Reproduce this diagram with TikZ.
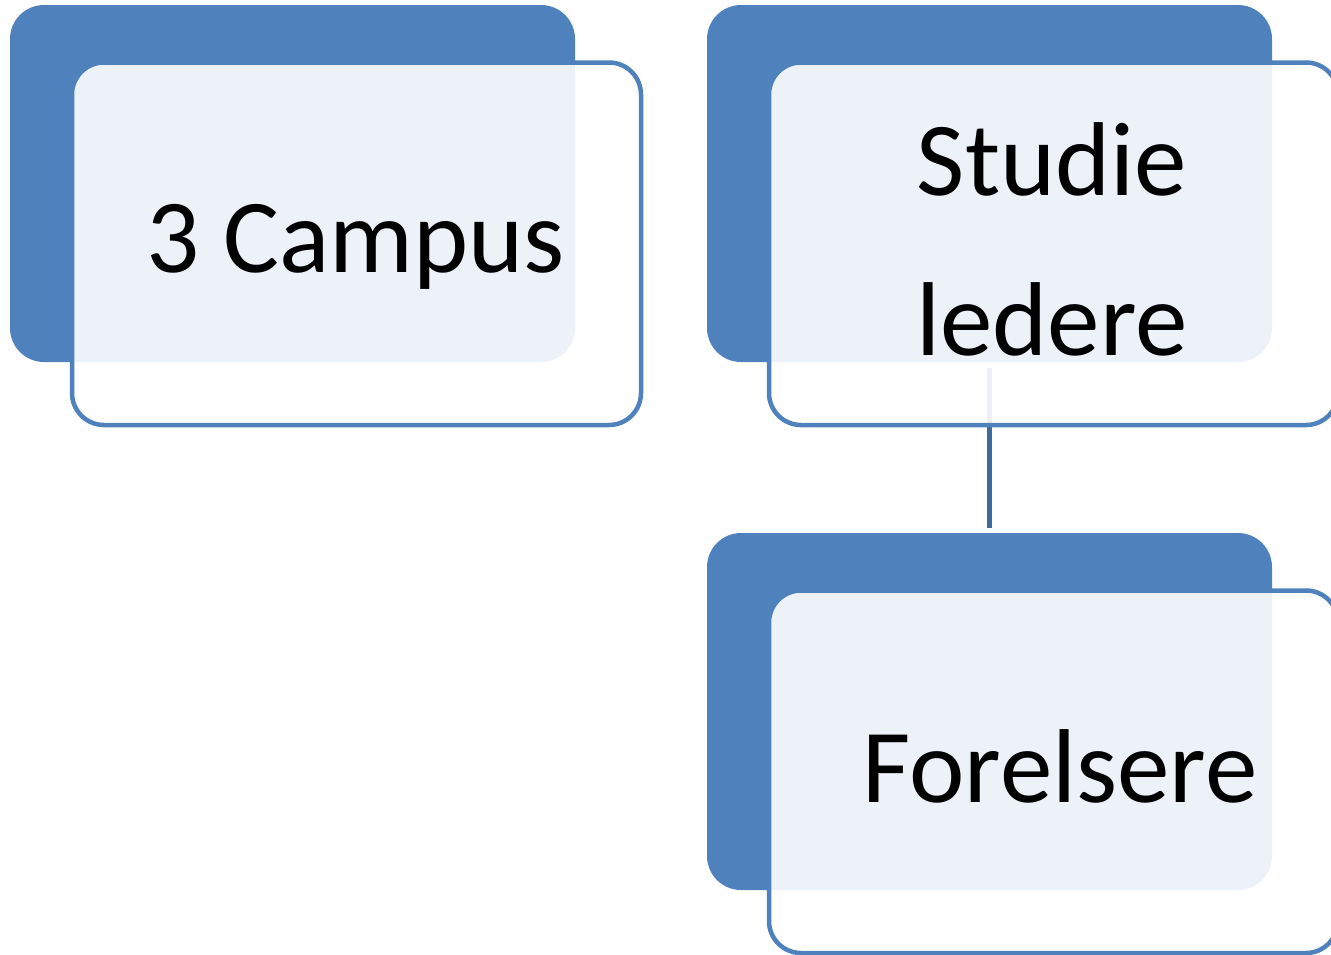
\documentclass[tikz,border=0pt]{standalone}
\usepackage{fontspec}
\setmainfont{Carlito}
\definecolor{accentblue}{HTML}{4F81BD}
\definecolor{linkblue}{HTML}{3F6A9E}
\tikzset{
  backbox/.style={fill=accentblue, draw=none, rounded corners=17pt,
    minimum width=282.5pt, minimum height=178.5pt, inner sep=0pt},
  frontbox/.style={fill=white, fill opacity=0.9, draw=accentblue, draw opacity=1,
    line width=2.25pt, rounded corners=16pt,
    minimum width=284.5pt, minimum height=181.25pt, inner sep=0pt},
  label/.style={text=black, font=\fontsize{52.5}{80}\selectfont, inner sep=0pt, anchor=base, align=center},
  link/.style={draw=linkblue, line width=2.5pt, shorten <=3pt, shorten >=2.5pt}
}
\begin{document}
\begin{tikzpicture}[x=0.5pt, y=-0.5pt]
\useasboundingbox (0,0) rectangle (1331,954);
\clip (0,0) rectangle (1331,954);
% group 1
\node[backbox] (b1) at (292.5,183.5) {};
\node[frontbox] (f1) at (356.5,243.75) {};
% group 2
\node[backbox] (b2) at (989.5,183.5) {};
% group 3
\node[backbox] (b3) at (989.5,711.5) {};
% connector
\draw[link] (b2.south) -- (b3.north);
\node[frontbox] (f2) at (1053.5,243.75) {};
\node[frontbox] (f3) at (1053.5,771.75) {};
% texts
\node[label] (t1) at (355.5,272) {3 Campus};
\node[label] (t2) at (1052,355) {Studie\\ledere};
\node[label] (t3) at (1060,802) {Forelsere};
\end{tikzpicture}
\end{document}
